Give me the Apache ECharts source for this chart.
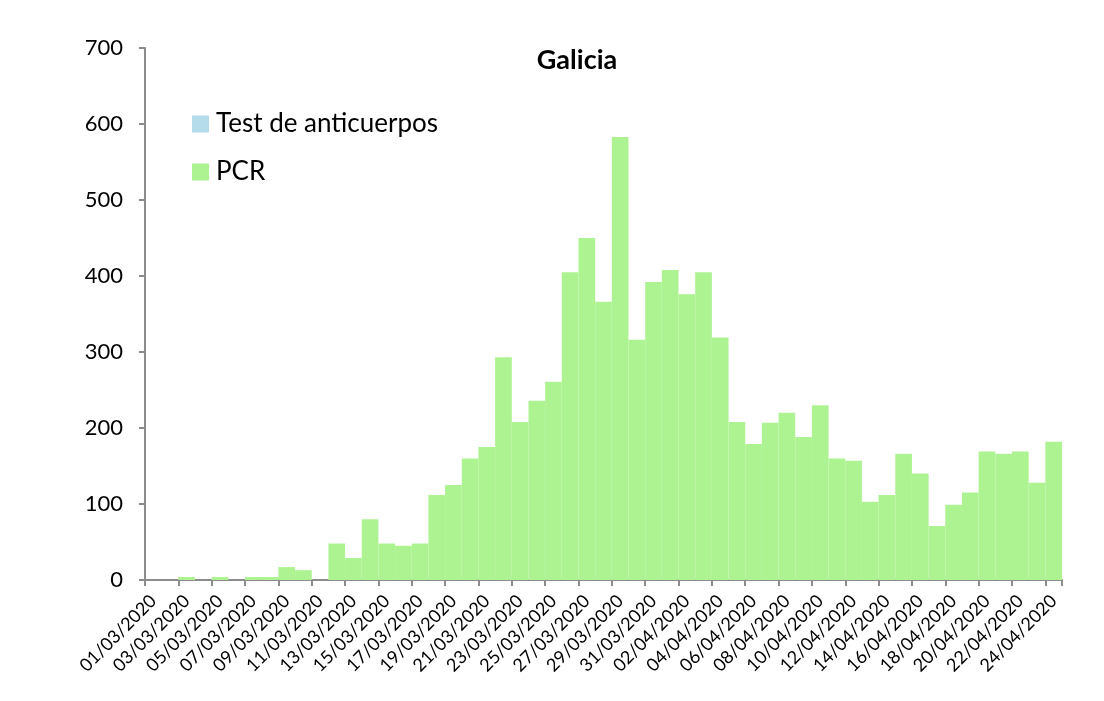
<!DOCTYPE html>
<html>
<head>
<meta charset="utf-8">
<script src="https://cdn.jsdelivr.net/npm/echarts@6/dist/echarts.min.js"></script>
<style>
  html, body { margin: 0; padding: 0; background: #fff; }
  #chart { width: 1104px; height: 701px; }
</style>
</head>
<body>
<div id="chart"></div>
<script>
// daily values, 01/03/2020 .. 24/04/2020
const dates = []
for (let d = 1; d <= 31; d++) dates.push(String(d).padStart(2, '0') + '/03/2020')
for (let d = 1; d <= 24; d++) dates.push(String(d).padStart(2, '0') + '/04/2020')

const pcr = [
  0, 0, 4, 0, 4, 0, 4, 4, 17, 13,
  0, 48, 29, 80, 48, 45, 48, 112, 125, 160,
  175, 293, 208, 236, 261, 405, 450, 366, 583, 316,
  392, 408, 376, 405, 319, 208, 179, 207, 220, 188,
  230, 160, 157, 103, 112, 166, 140, 71, 99, 115,
  169, 166, 169, 128, 182
]
const anticuerpos = dates.map(() => 0)

const yTicks = [0, 100, 200, 300, 400, 500, 600, 700]

const myChart = echarts.init(document.getElementById('chart'))
const font = 'Lato, "Open Sans", sans-serif'
const axisGray = '#8c8c8c'

const option = {
  animation: false,
  textStyle: { fontFamily: font },
  title: {
    text: 'Galicia',
    left: 572,
    top: 42,
    textAlign: 'center',
    textStyle: { fontSize: 27, fontWeight: 'bold', color: '#000', fontFamily: font }
  },
  legend: {
    orient: 'vertical',
    left: 187,
    top: 106,
    icon: 'rect',
    itemWidth: 17,
    itemHeight: 17,
    itemGap: 22,
    textStyle: { fontSize: 26, lineHeight: 26, color: '#000', fontFamily: font, padding: [0, 0, 0, 2] },
    data: ['Test de anticuerpos', 'PCR']
  },
  grid: { left: 145, right: 42, top: 48, bottom: 121 },
  xAxis: {
    type: 'category',
    data: dates,
    boundaryGap: true,
    axisLine: { lineStyle: { color: axisGray, width: 2 } },
    axisTick: {
      show: true,
      interval: 1,
      length: 6,
      lineStyle: { color: axisGray, width: 2 }
    },
    axisLabel: {
      interval: 1,
      rotate: 45,
      fontSize: 18,
      color: '#000',
      margin: 18,
      fontFamily: font
    }
  },
  yAxis: {
    type: 'value',
    min: yTicks[0],
    max: yTicks[yTicks.length - 1],
    interval: 100,
    splitLine: { show: false },
    axisLine: { show: true, lineStyle: { color: axisGray, width: 2 } },
    axisTick: { show: true, length: 6, lineStyle: { color: axisGray, width: 2 } },
    axisLabel: { fontSize: 22, color: '#000', margin: 22, fontFamily: font }
  },
  series: [
    {
      name: 'Test de anticuerpos',
      type: 'bar',
      stack: 'total',
      barCategoryGap: 0,
      itemStyle: { color: '#b4dcea' },
      data: anticuerpos
    },
    {
      name: 'PCR',
      type: 'bar',
      stack: 'total',
      barCategoryGap: 0,
      itemStyle: { color: '#aef392' },
      data: pcr
    }
  ]
}
myChart.setOption(option)
</script>
</body>
</html>
